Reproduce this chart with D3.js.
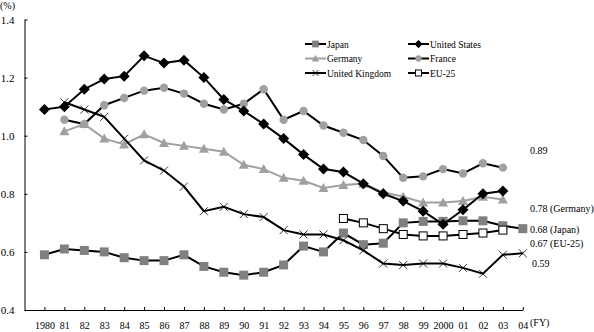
<!DOCTYPE html>
<html><head><meta charset="utf-8">
<script src="https://cdn.jsdelivr.net/npm/d3@7"></script>
<style>body{margin:0;background:#fff}svg{display:block}</style>
</head><body><svg id="c" width="594" height="332" style="font-family:'Liberation Serif','Times New Roman',serif"></svg>
<script>
const years = d3.range(1980, 2005);
const tickLabels = ["1980","81","82","83","84","85","86","87","88","89","90","91","92","93","94","95","96","97","98","99","2000","01","02","03","04"];
const yTicks = [0.4,0.6,0.8,1.0,1.2,1.4];
const japan   = [0.59,0.61,0.605,0.60,0.58,0.57,0.57,0.59,0.55,0.53,0.52,0.53,0.555,0.62,0.60,0.665,0.625,0.63,0.70,0.705,0.705,0.707,0.707,0.69,0.68];
const us      = [1.09,1.10,1.16,1.195,1.205,1.275,1.25,1.26,1.20,1.125,1.085,1.04,0.99,0.935,0.885,0.875,0.835,0.80,0.775,0.74,0.695,0.745,0.80,0.81,null];
const germany = [null,1.015,1.04,0.99,0.97,1.005,0.975,0.965,0.955,0.945,0.90,0.885,0.855,0.845,0.82,0.83,0.835,0.805,0.79,0.77,0.77,0.775,0.79,0.78,null];
const france  = [null,1.055,1.04,1.105,1.13,1.155,1.165,1.145,1.11,1.09,1.11,1.16,1.055,1.085,1.035,1.01,0.985,0.93,0.855,0.86,0.885,0.87,0.905,0.89,null];
const uk      = [null,1.115,1.09,1.065,0.99,0.915,0.88,0.825,0.74,0.755,0.73,0.72,0.675,0.66,0.66,0.64,0.605,0.56,0.555,0.56,0.56,0.545,0.525,0.59,0.595];
const eu25    = [null,null,null,null,null,null,null,null,null,null,null,null,null,null,null,0.715,0.70,0.68,0.66,0.655,0.655,0.66,0.665,0.675,null];
const endLabels = ["0.89","0.78 (Germany)","0.68 (Japan)","0.67 (EU-25)","0.59"];

const FONT = "'Liberation Serif','Times New Roman',serif";
const svg = d3.select("#c");
const x = d3.scaleLinear().domain([1979, 2004]).range([24.5, 522.8]);
const y = d3.scaleLinear().domain([0.4, 1.4]).range([310, 19.5]);

const yAxis = d3.axisLeft(y).tickValues(yTicks).tickFormat(d3.format(".1f")).tickSizeInner(-3).tickSizeOuter(0).tickPadding(10);
const gy = svg.append("g").attr("transform","translate(24.5,0)").call(yAxis)
  .attr("font-family",FONT).attr("font-size",11);
gy.select(".domain").attr("stroke","#000");
gy.selectAll("text").attr("fill","#000");

const xAxis = d3.axisBottom(x).tickValues(years).tickFormat((d,i)=>tickLabels[i]).tickSizeInner(-3).tickSizeOuter(0).tickPadding(12);
const gx = svg.append("g").attr("transform","translate(0,310)").call(xAxis)
  .attr("font-family",FONT).attr("font-size",10);
gx.select(".domain").attr("stroke","#000");
gx.selectAll("text").attr("fill","#000");

svg.append("text").attr("x",0).attr("y",9).attr("font-family",FONT).attr("font-size",10).text("(%)");
svg.append("text").attr("x",530).attr("y",326).attr("font-family",FONT).attr("font-size",10).text("(FY)");

const series = [
  {name:"Japan", data:japan, line:"#000", marker:"square", fill:"#808080"},
  {name:"Germany", data:germany, line:"#a0a0a0", marker:"triangle", fill:"#a0a0a0"},
  {name:"France", data:france, line:"#000", marker:"circle", fill:"#a0a0a0"},
  {name:"United States", data:us, line:"#000", marker:"diamond", fill:"#000"},
  {name:"United Kingdom", data:uk, line:"#000", marker:"x", fill:"none"},
  {name:"EU-25", data:eu25, line:"#000", marker:"open", fill:"#fff"}
];

function drawMarker(g, type, cx, cy, s, k){
  k = k || 1;
  if(type==="square"){const h=4.5*k;g.append("rect").attr("x",cx-h).attr("y",cy-h).attr("width",2*h).attr("height",2*h).attr("fill",s.fill);}
  else if(type==="open"){const h=4*k;g.append("rect").attr("x",cx-h).attr("y",cy-h).attr("width",2*h).attr("height",2*h).attr("fill","#fff").attr("stroke","#000").attr("stroke-width",1);}
  else if(type==="triangle"){g.append("path").attr("d",`M${cx},${cy-5*k}L${cx+5*k},${cy+4*k}L${cx-5*k},${cy+4*k}Z`).attr("fill",s.fill);}
  else if(type==="circle"){g.append("circle").attr("cx",cx).attr("cy",cy).attr("r",4.2*k).attr("fill",s.fill);}
  else if(type==="diamond"){const h=5.5*k;g.append("path").attr("d",`M${cx},${cy-h}L${cx+h},${cy}L${cx},${cy+h}L${cx-h},${cy}Z`).attr("fill",s.fill);}
  else if(type==="x"){const h=4*k;g.append("path").attr("d",`M${cx-h},${cy-h}L${cx+h},${cy+h}M${cx+h},${cy-h}L${cx-h},${cy+h}`).attr("stroke","#000").attr("stroke-width",0.8).attr("fill","none");}
}

const line = d3.line().defined(d=>d.v!=null).x(d=>x(d.yr)).y(d=>y(d.v));
series.forEach(s=>{
  const pts = years.map((yr,i)=>({yr, v:s.data[i]}));
  const g = svg.append("g");
  g.append("path").datum(pts).attr("d",line).attr("fill","none").attr("stroke",s.line).attr("stroke-width",2);
  pts.filter(d=>d.v!=null).forEach(d=>drawMarker(g, s.marker, x(d.yr), y(d.v), s));
});

const legendItems = [
  {s:series[0], col:0, row:0},{s:series[3], col:1, row:0},
  {s:series[1], col:0, row:1},{s:series[2], col:1, row:1},
  {s:series[4], col:0, row:2},{s:series[5], col:1, row:2}
];
const lg = svg.append("g");
legendItems.forEach(it=>{
  const lx = it.col===0 ? 305 : 408, ly = 44 + it.row*14.5;
  lg.append("line").attr("x1",lx).attr("x2",lx+21).attr("y1",ly).attr("y2",ly).attr("stroke",it.s.line).attr("stroke-width",2);
  drawMarker(lg, it.s.marker, lx+10.5, ly, it.s, 0.75);
  lg.append("text").attr("x",lx+22).attr("y",ly+3.5).attr("font-family",FONT).attr("font-size",9.5).text(it.s.name);
});

const labelY = [150, 208, 229, 243, 263];
endLabels.forEach((t,i)=>{
  svg.append("text").attr("x",i===4?532:530).attr("y",labelY[i]+3.5).attr("font-family",FONT).attr("font-size",10).text(t);
});
</script></body></html>
